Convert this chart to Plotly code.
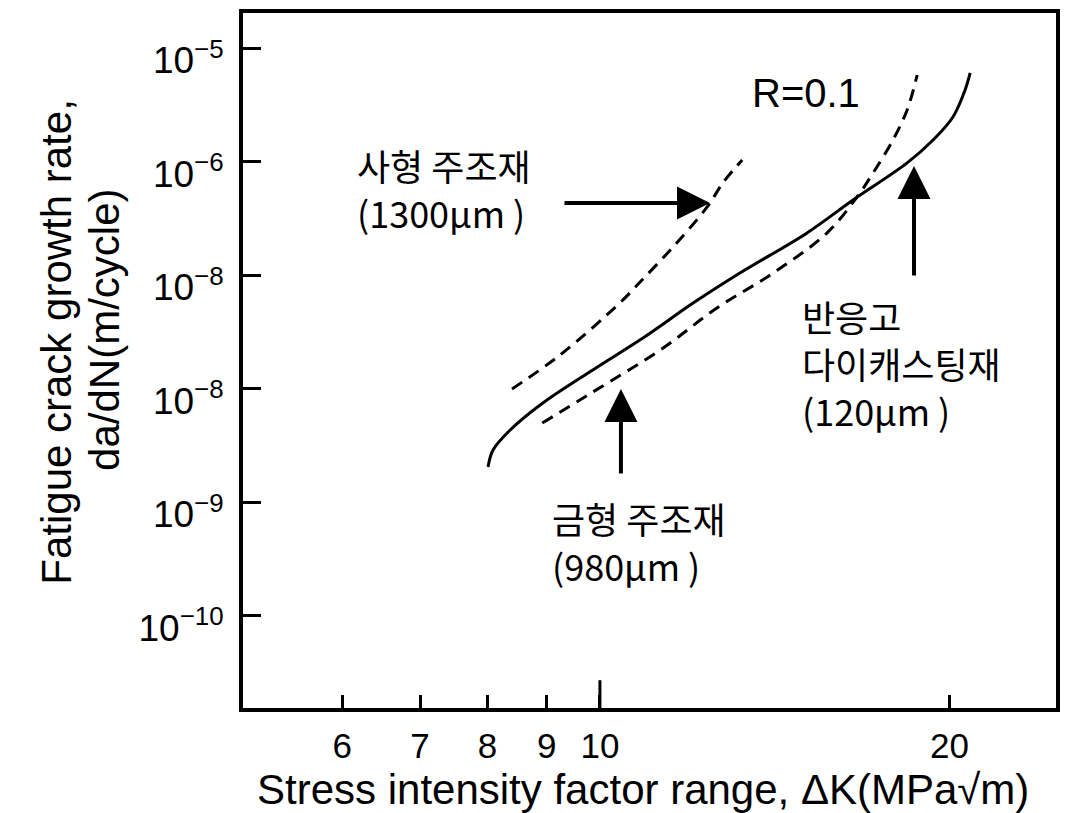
import plotly.graph_objects as go

# ---- data ----
# semi-solid die casting (120 um) - solid line
dk_semi = [8.01, 8.09, 8.37, 8.93, 9.86, 10.89, 12.03, 13.20, 15.08, 16.52, 18.39, 19.36, 20.14, 20.63, 20.84]
rate_semi = [2.05e-9, 2.90e-9, 4.35e-9, 7.52e-9, 1.47e-8, 2.81e-8, 5.71e-8, 1.05e-7, 2.37e-7, 4.62e-7,
             9.8e-7, 1.56e-6, 2.49e-6, 4.31e-6, 6.08e-6]
# sand casting (1300 um) - dashed
dk_sand = [8.40, 9.24, 10.40, 10.83, 11.56, 12.37, 12.76, 13.26]
rate_sand = [1.0e-8, 1.99e-8, 5.71e-8, 8.75e-8, 1.78e-7, 4.01e-7, 6.53e-7, 1.04e-6]
# permanent mold casting (980 um) - dashed
dk_mold = [8.92, 9.86, 11.27, 12.61, 14.10, 15.69, 16.65, 17.19, 17.88, 18.39, 18.76]
rate_mold = [5.01e-9, 9.40e-9, 2.20e-8, 5.16e-8, 1.05e-7, 2.37e-7, 4.91e-7, 8.0e-7, 1.56e-6, 2.87e-6, 5.83e-6]

x_tickvals = [6, 7, 8, 9, 10, 20]
x_ticktext = ["6", "7", "8", "9", "10", "20"]
y_tickvals = [1e-5, 1e-6, 1e-7, 1e-8, 1e-9, 1e-10]
y_ticktext = ["10<sup>−5</sup>", "10<sup>−6</sup>", "10<sup>−8</sup>", "10<sup>−8</sup>",
              "10<sup>−9</sup>", "10<sup>−10</sup>"]

FONT = "Liberation Sans, Arial, Noto Sans CJK KR, sans-serif"
KFONT = "Noto Sans CJK KR, Liberation Sans, sans-serif"

fig = go.Figure()
line_common = dict(color="black", width=3, shape="spline", smoothing=1)
fig.add_trace(go.Scatter(x=dk_semi, y=rate_semi, mode="lines", line=dict(**line_common), showlegend=False))
fig.add_trace(go.Scatter(x=dk_sand, y=rate_sand, mode="lines", line=dict(dash="12px,8px", **line_common), showlegend=False))
fig.add_trace(go.Scatter(x=dk_mold, y=rate_mold, mode="lines", line=dict(dash="12px,8px", **line_common), showlegend=False))

fig.update_xaxes(
    type="log", range=[0.6926, 1.3928], automargin=False,
    tickvals=x_tickvals, ticktext=x_ticktext,
    ticks="inside", ticklen=13, tickwidth=3, tickcolor="black",
    showline=True, linewidth=4, linecolor="black", mirror=True,
    showgrid=False, zeroline=False,
    tickfont=dict(family=FONT, size=35, color="black"),
    ticklabelstandoff=4,
)
fig.update_yaxes(
    type="log", range=[-10.811, -4.688], automargin=False,
    tickvals=y_tickvals, ticktext=y_ticktext,
    ticks="inside", ticklen=18, tickwidth=3, tickcolor="black",
    showline=True, linewidth=4, linecolor="black", mirror=True,
    showgrid=False, zeroline=False,
    tickfont=dict(family=FONT, size=37, color="black"),
    ticklabelstandoff=8, ticklabelshift=12,
)

# longer tick at 10
fig.add_shape(type="line", xref="x", yref="paper", x0=10, x1=10, y0=0, y1=0.04,
              line=dict(color="black", width=3))

# x axis title
fig.add_annotation(text="Stress intensity factor range, ΔK(MPa√m)", xref="paper", yref="paper",
                   x=0.4926, y=0, yshift=-81, xanchor="center", yanchor="middle", showarrow=False,
                   font=dict(family=FONT, size=42, color="black"))

# y axis title in two lines
fig.add_annotation(text="Fatigue crack growth rate,", xref="paper", yref="paper",
                   x=0, y=0.527, xshift=-186, xanchor="center", yanchor="middle",
                   textangle=-90, showarrow=False,
                   font=dict(family=FONT, size=42, color="black"))
fig.add_annotation(text="da/dN(m/cycle)", xref="paper", yref="paper",
                   x=0, y=0.544, xshift=-138, xanchor="center", yanchor="middle",
                   textangle=-90, showarrow=False,
                   font=dict(family=FONT, size=42, color="black"))

# labels
fig.add_annotation(text="R=0.1", x=1.1293, y=-5.393, xanchor="left", yanchor="middle",
                   showarrow=False, font=dict(family=FONT, size=40, color="black"))
fig.add_annotation(text="사형 주조재<br>(1300μm )", x=0.7891, y=-6.238, xanchor="left", yanchor="middle",
                   align="left", showarrow=False, font=dict(family=KFONT, size=36, color="black"))
fig.add_annotation(text="반응고<br>다이캐스팅재<br>(120μm )", x=1.1724, y=-7.771, xanchor="left", yanchor="middle",
                   align="left", showarrow=False, font=dict(family=KFONT, size=36, color="black"))
fig.add_annotation(text="금형 주조재<br>(980μm )", x=0.9570, y=-9.348, xanchor="left", yanchor="middle",
                   align="left", showarrow=False, font=dict(family=KFONT, size=36, color="black"))

# arrows (tip in data coords, tail as pixel offset)
arrow_common = dict(showarrow=True, arrowhead=2, arrowsize=1.65, arrowwidth=4, arrowcolor="black", text="",
                    standoff=0, startstandoff=0)
fig.add_annotation(x=1.0948, y=-6.362, ax=-147, ay=0, **arrow_common)
fig.add_annotation(x=1.2705, y=-6.036, ax=0, ay=111, **arrow_common)
fig.add_annotation(x=1.0181, y=-8.0, ax=0, ay=86, **arrow_common)

fig.update_layout(
    width=1066, height=813,
    margin=dict(l=243, r=10, t=13, b=105),
    paper_bgcolor="white", plot_bgcolor="white",
    showlegend=False,
)

fig.write_html("out.html")
